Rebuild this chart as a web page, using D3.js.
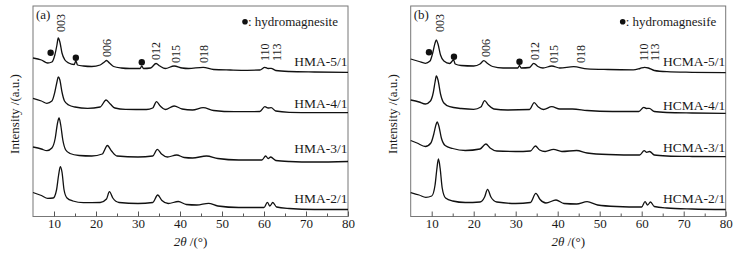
<!DOCTYPE html>
<html>
<head>
<meta charset="utf-8">
<script src="https://cdn.jsdelivr.net/npm/d3@7"></script>
<style>
  body { margin: 0; background: #fff; }
  text { font-family: "Liberation Serif", "Times New Roman", serif; fill: #1a1a1a; }
</style>
</head>
<body>
<div id="chart"></div>
<script>
// XRD patterns, [2theta, intensity (a.u., stacked)]
var hma51 = [[5,159],[7,157],[8.5,154],[9.5,155],[10.2,162],[10.7,172],[11.0,179],[11.4,175],[11.9,164],[12.6,157],[13.5,154],[14.8,152.5],[15.2,156],[15.6,152],[17,151],[19,150.5],[21,152],[22.0,155],[22.5,156.5],[23.2,154],[24.2,150.5],[26,149],[28,148.5],[30.5,148.5],[30.9,151],[31.3,148.5],[33,149],[34.3,153.5],[35.2,151],[36.5,148.5],[38.6,151],[40.5,149],[42,148.5],[45.5,149.7],[48,147.5],[52,147],[56,146.7],[59,147],[60.2,149.7],[61,148.5],[61.7,148.7],[62.8,146.5],[66,145.5],[72,145],[80,144.7]];
var hma41 = [[5,118.7],[7,116],[8.3,113.7],[9.5,116],[10.2,125],[10.7,135],[11.0,140],[11.4,137],[11.9,125],[12.5,116],[13.5,112],[15,110],[18,108.7],[21,110],[22.4,117],[23.4,113],[24.5,109],[27,107.7],[32,107.5],[33.5,109],[34.4,115.3],[35.3,111],[36.5,107.5],[38.6,111],[40.5,108],[43,107],[45.5,109.3],[48,106.5],[53,105.3],[59,105.5],[60.2,110.3],[61,109],[61.7,109.3],[62.8,106],[66,104.7],[72,104.3],[80,104.3]];
var hma31 = [[5,70],[7,68],[8.3,66.3],[9.5,69],[10.3,79],[10.8,93],[11.2,99],[11.6,92],[12.1,77],[12.8,67],[13.8,63.5],[16,61.5],[19,61],[21.5,63],[22.7,71.5],[23.7,66],[25,61],[30,60],[33.5,61],[34.6,67.7],[35.6,63],[37,60],[39.2,62],[41,59.5],[43,59],[46.3,61],[49,58.5],[54,57],[59.5,57],[60.4,61],[61,58.5],[61.6,60],[62.8,56.5],[66,55.5],[72,55],[80,55.5]];
var hma21 = [[5,24.5],[7,21.5],[8.5,18.7],[9.8,19],[10.6,27],[11.1,42],[11.5,50.3],[11.9,45],[12.4,27],[13.1,19],[14.5,16],[17,14.3],[21,14.5],[22.5,18],[23.2,25.3],[24.0,19],[25.5,14.5],[30,13.5],[33.5,14.5],[34.7,22],[35.7,16.5],[37.2,13.5],[39.6,15.5],[41.5,12.5],[44,12],[46.8,13.7],[49,11],[54,9.5],[60,9.5],[60.8,14.7],[61.4,11],[62.1,14.5],[63,10],[66,8.5],[72,7.5],[80,7.5]];

var hcma51 = [[5,158],[7,155.5],[8.5,153.7],[9.6,156],[10.3,165],[10.8,174],[11.1,177],[11.5,173],[12.1,162],[12.9,156],[14.3,153.5],[15.2,157],[15.6,153],[17,151.5],[20,151],[21.5,153],[22.4,156.3],[23.3,153.5],[24.5,150.5],[27,149],[30.5,149],[30.9,151.5],[31.3,149],[33.3,149.5],[34.3,153.7],[35.3,150.5],[36.5,149],[38.6,151],[40.5,149],[43.8,150.3],[47,148.2],[52,147.5],[58,147.2],[59.6,148.5],[60.7,149.7],[61.6,149],[63,146.5],[66,145.3],[72,144.7],[80,144.3]];
var hcma41 = [[5,117],[7,115],[8.5,113],[9.7,116],[10.4,125],[10.8,135],[11.1,141],[11.5,137],[12.1,123],[12.9,114],[14.3,110.3],[17,108.5],[20,107.7],[21.7,110],[22.6,116.3],[23.5,112],[24.8,108],[28,107],[33.3,107.5],[34.4,114.3],[35.4,110],[36.6,107.5],[38.6,110.3],[40.5,108],[43.5,108],[47,106.5],[53,105.5],[59.3,105.5],[60.5,109.7],[61.1,108.5],[61.8,108.7],[63,105.5],[66,104.5],[72,104],[80,103.7]];
var hcma31 = [[5,76.5],[6.5,74],[8.5,70.5],[9.8,74],[10.5,83],[11.0,92],[11.3,95],[11.7,91],[12.3,79],[13.2,71.5],[15,68.5],[18,66.5],[21.5,68],[22.9,73],[23.9,69],[25.5,66],[30,65.5],[33.5,66],[34.7,71],[35.7,67],[37,65.5],[39,67.7],[41,65.5],[44.5,66.5],[47,64],[52,62.5],[59.5,62],[60.6,66.3],[61.2,64.7],[61.9,65.5],[63,62],[66,61],[72,60.5],[80,60.3]];
var hcma21 = [[5,24.5],[7,22],[8.6,19.7],[10,21],[10.8,32],[11.2,47],[11.6,58],[12.0,49],[12.5,29],[13.3,19],[15,16],[18,14.5],[21.5,15],[22.6,20],[23.3,27.7],[24.1,20],[25.5,15],[30,13.5],[33.5,14.5],[34.8,23.7],[35.8,17.5],[37.2,14],[39.6,17],[41.5,13.5],[44.5,13],[47,15.3],[49.5,12],[54,10.5],[60,10],[60.8,15.3],[61.4,12],[62.1,15],[63,10.5],[66,9],[72,8],[80,7.5]];

var namesA = ["HMA-5/1", "HMA-4/1", "HMA-3/1", "HMA-2/1"];
var namesB = ["HCMA-5/1", "HCMA-4/1", "HCMA-3/1", "HCMA-2/1"];
var nameLevelsA = [151, 109, 64, 14];
var nameLevelsB = [151, 107, 65, 14];

// hkl reflections: [label, 2theta, level]
var hklA = [["003",11.6,185],["006",22.5,160],["012",34.3,157],["015",39.0,154],["018",45.7,154],["110",60.1,156],["113",63.0,156]];
var hklB = [["003",12.0,185],["006",22.9,160],["012",34.5,157],["015",39.1,154],["018",45.6,154],["110",60.5,156],["113",63.2,156]];

// hydromagnesite markers: [2theta, level]
var dotsA = [[9.2,164.3],[15.2,159.3],[30.9,154.7]];
var dotsB = [[9.35,164.7],[15.3,160.3],[30.9,155.3]];

var majorTicks = [10, 20, 30, 40, 50, 60, 70, 80];
var minorTicks = [15, 25, 35, 45, 55, 65, 75];

var panels = [
  { tag: "(a)", legend: ": hydromagnesite", left: 33, curves: [hma51, hma41, hma31, hma21], names: namesA, levels: nameLevelsA, hkl: hklA, dots: dotsA },
  { tag: "(b)", legend: ": hydromagnesife", left: 410.7, curves: [hcma51, hcma41, hcma31, hcma21], names: namesB, levels: nameLevelsB, hkl: hklB, dots: dotsB }
];

var plotW = 315, plotTop = 6, plotBottom = 216.5;

var svg = d3.select("#chart").append("svg")
  .attr("width", 748)
  .attr("height", 255);

panels.forEach(function(p) {
  var g = svg.append("g").attr("transform", "translate(" + p.left + ",0)");

  var x = d3.scaleLinear().domain([5, 80]).range([0, plotW]);
  var y = d3.scaleLinear().domain([0, 211]).range([217, 6]);

  var line = d3.line()
    .x(function(d) { return x(d[0]); })
    .y(function(d) { return y(d[1]); })
    .curve(d3.curveMonotoneX);

  // frame
  g.append("rect")
    .attr("x", 0).attr("y", plotTop)
    .attr("width", plotW).attr("height", plotBottom - plotTop)
    .attr("fill", "none").attr("stroke", "#777").attr("stroke-width", 1);

  // x axis, ticks pointing inward
  var ax = g.append("g")
    .attr("transform", "translate(0," + plotBottom + ")")
    .call(d3.axisBottom(x).tickValues(majorTicks).tickSize(-5).tickPadding(2.5));
  ax.select(".domain").remove();
  ax.selectAll("line").attr("stroke", "#555");
  ax.selectAll("text").style("font-family", "'Liberation Serif', serif").style("font-size", "13px").attr("fill", "#1a1a1a");

  var axm = g.append("g")
    .attr("transform", "translate(0," + plotBottom + ")")
    .call(d3.axisBottom(x).tickValues(minorTicks).tickSize(-3).tickFormat(""));
  axm.select(".domain").remove();
  axm.selectAll("line").attr("stroke", "#555");

  // x label
  var xl = g.append("text")
    .attr("x", plotW / 2).attr("y", 245.5)
    .attr("text-anchor", "middle")
    .style("font-size", "13px");
  xl.append("tspan").style("font-style", "italic").text("2θ");
  xl.append("tspan").text(" /(°)");

  // y label
  g.append("text")
    .attr("transform", "translate(-14," + 114 + ") rotate(-90)")
    .attr("text-anchor", "middle")
    .style("font-size", "13px")
    .text("Intensity /(a.u.)");

  // curves
  g.selectAll(".pattern")
    .data(p.curves)
    .enter().append("path")
    .attr("class", "pattern")
    .attr("d", line)
    .attr("fill", "none")
    .attr("stroke", "#111")
    .attr("stroke-width", 1.3)
    .attr("stroke-linejoin", "round");

  // sample names
  g.selectAll(".name")
    .data(p.names)
    .enter().append("text")
    .attr("class", "name")
    .attr("x", plotW - 0.5)
    .attr("y", function(d, i) { return y(p.levels[i]); })
    .attr("text-anchor", "end")
    .style("font-size", "13.5px")
    .text(function(d) { return d; });

  // hkl labels
  g.selectAll(".hkl")
    .data(p.hkl)
    .enter().append("text")
    .attr("class", "hkl")
    .attr("transform", function(d) { return "translate(" + x(d[1]) + "," + y(d[2]) + ") rotate(-90)"; })
    .attr("dy", "0.35em")
    .style("font-size", "12px")
    .text(function(d) { return d[0]; });

  // hydromagnesite dots
  g.selectAll(".dot")
    .data(p.dots)
    .enter().append("circle")
    .attr("class", "dot")
    .attr("cx", function(d) { return x(d[0]); })
    .attr("cy", function(d) { return y(d[1]); })
    .attr("r", 3.2)
    .attr("fill", "#111");

  // legend
  g.append("circle")
    .attr("cx", 212).attr("cy", 21.7).attr("r", 2.8).attr("fill", "#111");
  g.append("text")
    .attr("x", 215).attr("y", 26)
    .style("font-size", "13px")
    .text(p.legend);

  // panel tag
  g.append("text")
    .attr("x", 3).attr("y", 19)
    .style("font-size", "13px")
    .text(p.tag);
});
</script>
</body>
</html>
